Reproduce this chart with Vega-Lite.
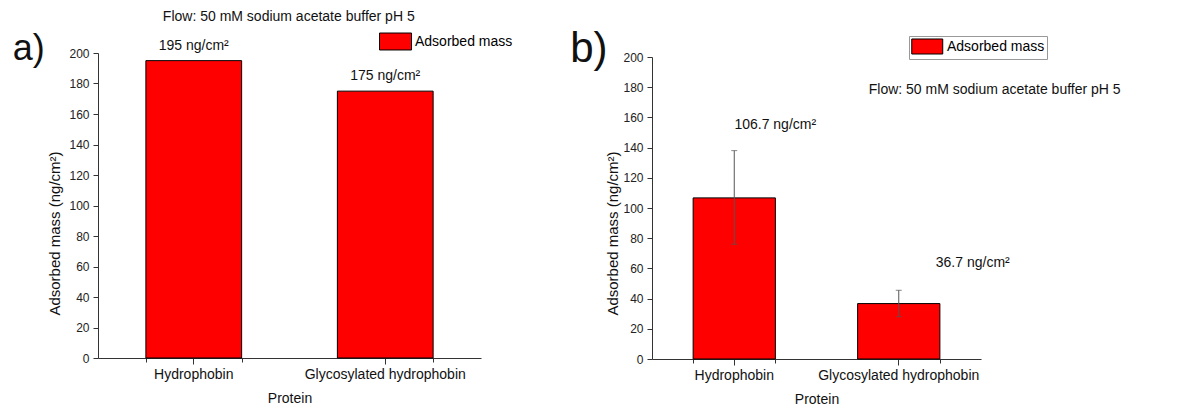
{
  "$schema": "https://vega.github.io/schema/vega-lite/v6.json",
  "autosize": {"type": "pad"},
  "padding": {"left": 12, "top": 10, "right": 5, "bottom": 5},
  "background": "white",
  "spacing": 171,
  "bounds": "flush",
  "resolve": {"legend": {"color": "independent"}, "scale": {"color": "independent"}},
  "config": {
    "font": "Liberation Sans",
    "view": {"stroke": null},
    "axisY": {
      "values": [0,10,20,30,40,50,60,70,80,90,100,110,120,130,140,150,160,170,180,190,200],
      "labelExpr": "datum.value % 20 === 0 ? datum.label : ''",
      "tickSize": {"condition": {"test": "datum.value % 20 !== 0", "value": 3}, "value": 5},
      "labelFontSize": 12, "labelPadding": 4, "labelColor": "#222",
      "domainColor": "#333", "tickColor": "#333", "grid": false,
      "titleFontSize": 15, "titleFontWeight": "normal", "titleColor": "#111",
      "titleY": 180, "titleAlign": "center"
    },
    "axisX": {
      "labelAngle": 0, "tickSize": 6, "labelFontSize": 14, "labelPadding": 3, "labelColor": "#111",
      "domainColor": "#333", "tickColor": "#333", "titleFontSize": 14, "titleFontWeight": "normal",
      "titleColor": "#111", "titlePadding": 10
    },
    "text": {"font": "Liberation Sans", "color": "#111"}
  },
  "hconcat": [
    {
      "width": 383,
      "height": 305,
      "resolve": {"axis": {"x": "independent"}},
      "layer": [
        {
          "data": {"values": [
            {"protein": "Hydrophobin", "mass": 195, "label": "195 ng/cm²", "series": "Adsorbed mass"},
            {"protein": "Glycosylated hydrophobin", "mass": 175, "label": "175 ng/cm²", "series": "Adsorbed mass"}
          ]},
          "layer": [
            {
              "mark": {"type": "bar", "stroke": "#000", "strokeWidth": 1},
              "encoding": {
                "x": {"field": "protein", "type": "nominal", "sort": null, "title": "Protein",
                      "scale": {"paddingInner": 0.5, "paddingOuter": 0.25}},
                "y": {"field": "mass", "type": "quantitative", "title": "Adsorbed mass (ng/cm²)",
                      "scale": {"domain": [0, 200]}, "axis": {"titlePadding": 6}},
                "color": {"field": "series", "type": "nominal",
                          "scale": {"range": ["#ff0000"]},
                          "legend": {"orient": "none", "legendX": 281, "legendY": -20, "title": null,
                                     "symbolType": "M-1,-1.06H3V1.06H-1Z", "symbolSize": 256,
                                     "symbolStrokeColor": "#000", "symbolStrokeWidth": 1,
                                     "symbolOpacity": 1,
                                     "labelFontSize": 14, "labelColor": "#000", "labelOffset": 19}}
              }
            },
            {
              "mark": {"type": "text", "fontSize": 14, "dy": -15, "baseline": "middle"},
              "encoding": {
                "x": {"field": "protein", "type": "nominal", "sort": null},
                "y": {"field": "mass", "type": "quantitative"},
                "text": {"field": "label"}
              }
            }
          ]
        },
        {
          "data": {"values": [{"t": "a)"}]},
          "mark": {"type": "text", "fontSize": 36, "align": "left", "baseline": "middle", "dx": -181},
          "encoding": {
            "x": {"datum": "Hydrophobin", "type": "nominal",
                  "axis": {"orient": "bottom", "tickBand": "extent", "labels": false, "domain": false,
                           "title": null, "tickSize": 4}},
            "y": {"datum": 202.6, "type": "quantitative"},
            "text": {"field": "t"}
          }
        },
        {
          "data": {"values": [{"t": "Flow: 50 mM sodium acetate buffer pH 5"}]},
          "mark": {"type": "text", "fontSize": 14, "align": "center", "baseline": "middle", "dx": 95},
          "encoding": {
            "x": {"datum": "Hydrophobin", "type": "nominal", "axis": null},
            "y": {"datum": 223.6, "type": "quantitative"},
            "text": {"field": "t"}
          }
        }
      ]
    },
    {
      "width": 329,
      "height": 306,
      "resolve": {"axis": {"x": "independent"}},
      "layer": [
        {
          "data": {"values": [
            {"protein": "Hydrophobin", "mass": 106.7, "lo": 76, "hi": 138, "label": "106.7 ng/cm²", "series": "Adsorbed mass"},
            {"protein": "Glycosylated hydrophobin", "mass": 36.7, "lo": 28, "hi": 45.5, "label": "36.7 ng/cm²", "series": "Adsorbed mass"}
          ]},
          "layer": [
            {
              "mark": {"type": "bar", "stroke": "#000", "strokeWidth": 1},
              "encoding": {
                "x": {"field": "protein", "type": "nominal", "sort": null, "title": "Protein",
                      "scale": {"paddingInner": 0.5, "paddingOuter": 0.25}},
                "y": {"field": "mass", "type": "quantitative", "title": "Adsorbed mass (ng/cm²)",
                      "scale": {"domain": [0, 200], "range": [306, 4]}, "axis": {"titlePadding": 2}},
                "color": {"field": "series", "type": "nominal",
                          "scale": {"range": ["#ff0000"]},
                          "legend": {"orient": "none", "legendX": 257, "legendY": -17, "title": null,
                                     "symbolType": "M-1,-0.97H3V0.97H-1Z", "symbolSize": 240,
                                     "symbolStrokeColor": "#000", "symbolStrokeWidth": 1,
                                     "symbolOpacity": 1,
                                     "strokeColor": "#999", "fillColor": "#fff", "padding": 2,
                                     "labelFontSize": 14, "labelColor": "#000", "labelOffset": 19}}
              }
            },
            {
              "mark": {"type": "rule", "color": "#555", "strokeWidth": 1},
              "encoding": {
                "x": {"field": "protein", "type": "nominal", "sort": null},
                "y": {"field": "lo", "type": "quantitative"},
                "y2": {"field": "hi"}
              }
            },
            {
              "mark": {"type": "tick", "color": "#555", "size": 6, "thickness": 1},
              "encoding": {
                "x": {"field": "protein", "type": "nominal", "sort": null},
                "y": {"field": "lo", "type": "quantitative"}
              }
            },
            {
              "mark": {"type": "tick", "color": "#555", "size": 6, "thickness": 1},
              "encoding": {
                "x": {"field": "protein", "type": "nominal", "sort": null},
                "y": {"field": "hi", "type": "quantitative"}
              }
            }
          ]
        },
        {
          "data": {"values": [{"protein": "Hydrophobin", "hi": 138, "label": "106.7 ng/cm²"}]},
          "mark": {"type": "text", "fontSize": 14, "dy": -26, "dx": 41, "baseline": "middle"},
          "encoding": {
            "x": {"field": "protein", "type": "nominal", "sort": null,
                  "axis": {"orient": "bottom", "tickBand": "extent", "labels": false, "domain": false,
                           "title": null, "tickSize": 4}},
            "y": {"field": "hi", "type": "quantitative"},
            "text": {"field": "label"}
          }
        },
        {
          "data": {"values": [{"protein": "Glycosylated hydrophobin", "hi": 45.5, "label": "36.7 ng/cm²"}]},
          "mark": {"type": "text", "fontSize": 14, "dy": -27, "dx": 74, "baseline": "middle"},
          "encoding": {
            "x": {"field": "protein", "type": "nominal", "sort": null, "axis": null},
            "y": {"field": "hi", "type": "quantitative"},
            "text": {"field": "label"}
          }
        },
        {
          "data": {"values": [{"t": "b)"}]},
          "mark": {"type": "text", "fontSize": 42, "align": "left", "baseline": "middle", "dx": -164},
          "encoding": {
            "x": {"datum": "Hydrophobin", "type": "nominal", "axis": null},
            "y": {"datum": 205, "type": "quantitative"},
            "text": {"field": "t"}
          }
        },
        {
          "data": {"values": [{"t": "Flow: 50 mM sodium acetate buffer pH 5"}]},
          "mark": {"type": "text", "fontSize": 14, "align": "left", "baseline": "middle", "dx": -30},
          "encoding": {
            "x": {"datum": "Glycosylated hydrophobin", "type": "nominal", "axis": null},
            "y": {"datum": 178, "type": "quantitative"},
            "text": {"field": "t"}
          }
        }
      ]
    }
  ]
}
